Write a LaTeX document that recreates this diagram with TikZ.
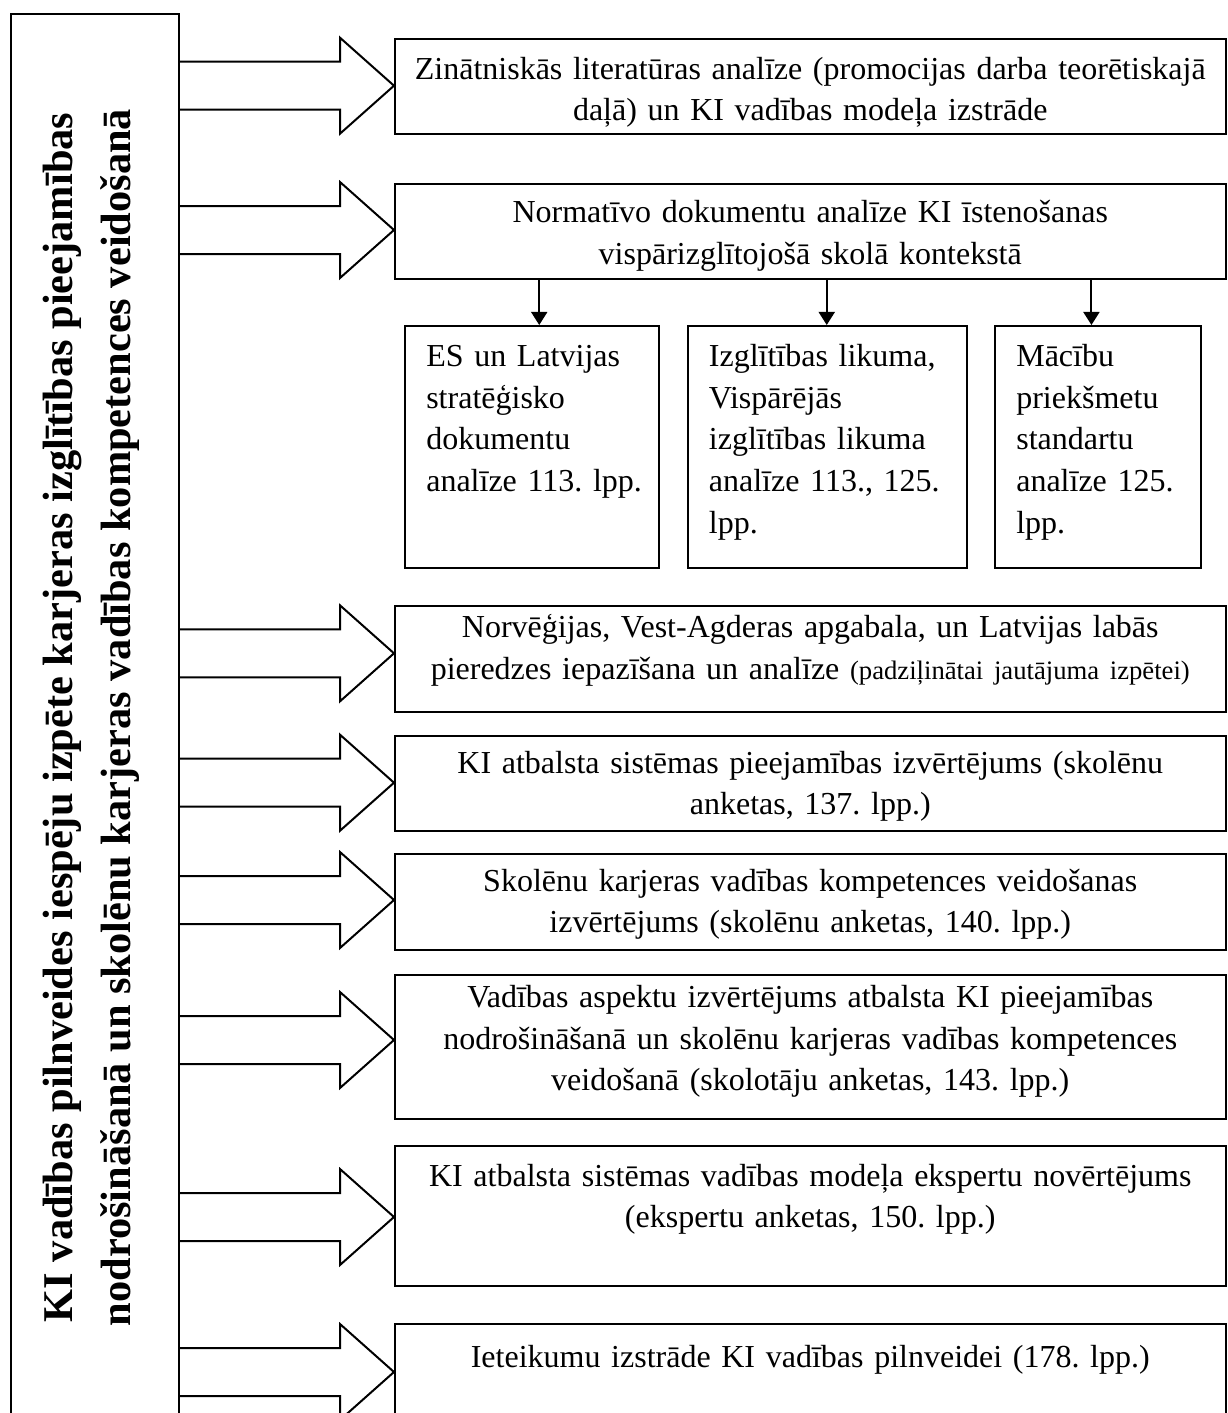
\documentclass[tikz,border=0pt]{standalone}
\usepackage{fontspec}
\setmainfont{Liberation Serif}
\usetikzlibrary{arrows.meta,calc}
\frenchspacing

% text sizes used in the diagram
\newcommand\boxfont{\fontsize{12}{15.6}\selectfont}
\newcommand\notefont{\fontsize{10}{12}\selectfont}
\newcommand\sidefont{\fontsize{15.9}{21.75}\selectfont\bfseries}

\tikzset{
  outline/.style={draw=black, line width=0.75pt},
  mainbox/.style={outline, anchor=north west, inner sep=0pt,
    minimum width=63pt, minimum height=527.6pt, font=\sidefont},
  bigbox/.style={outline, anchor=north west, inner xsep=4pt, inner ysep=0pt,
    text width=303.44pt, align=center, font=\boxfont},
  subbox/.style={outline, anchor=north west, inner xsep=7.875pt, inner ysep=0pt,
    align=left, font=\boxfont, text height=15.26pt, text depth=75.3pt},
  blockarrow/.style={outline, line join=miter},
  downarrow/.style={line width=0.75pt, -{Triangle[length=4.9pt,width=6pt]}},
}

% wide hollow arrow from the left column to the tip coordinate #1
\newcommand\shaftarrow[1]{%
  \draw[blockarrow] ($(#1 -| main.east)+(0,-24)$) -- ($(#1)+(-54,-24)$)
    -- ($(#1)+(-54,-48)$) -- (#1) -- ($(#1)+(-54,48)$)
    -- ($(#1)+(-54,24)$) -- ($(#1 -| main.east)+(0,24)$);}

\begin{document}
\begin{tikzpicture}[x=0.375pt, y=-0.375pt]
\useasboundingbox (0,0) rectangle (1227,1413);
\clip (0,0) rectangle (1227,1413);

% left column with the research aim
\node[mainbox] (main) at (10,13) {\hspace*{-3.75pt}\rotatebox{90}{\begin{tabular}{@{}c@{}}
KI vadības pilnveides iespēju izpēte karjeras izglītības pieejamības\\
nodrošināšanā un skolēnu karjeras vadības kompetences veidošanā
\end{tabular}}};

% research steps
\node[bigbox, text height=15.11pt, text depth=20.74pt] (b1) at (394,37.7)
  {Zinātniskās literatūras analīze (promocijas darba teorētiskajā\\
   daļā) un KI vadības modeļa izstrāde};
\node[bigbox, text height=14.55pt, text depth=21.08pt] (b2) at (394,182.7)
  {Normatīvo dokumentu analīze KI īstenošanas\\
   vispārizglītojošā skolā kontekstā};
\node[bigbox, text height=11.81pt, text depth=27.83pt] (b3) at (394,605)
  {Norvēģijas, Vest-Agderas apgabala, un Latvijas labās\\
   pieredzes iepazīšana un analīze {\notefont(padziļinātai jautājuma izpētei)}};
\node[bigbox, text height=13.88pt, text depth=21.75pt] (b4) at (394,735)
  {KI atbalsta sistēmas pieejamības izvērtējums (skolēnu\\
   anketas, 137. lpp.)};
\node[bigbox, text height=13.88pt, text depth=22.24pt] (b5) at (394,853)
  {Skolēnu karjeras vadības kompetences veidošanas\\
   izvērtējums (skolēnu anketas, 140. lpp.)};
\node[bigbox, text height=12.19pt, text depth=41.93pt] (b6) at (394,974)
  {Vadības aspektu izvērtējums atbalsta KI pieejamības\\
   nodrošināšanā un skolēnu karjeras vadības kompetences\\
   veidošanā (skolotāju anketas, 143. lpp.)};
\node[bigbox, text height=15pt, text depth=37.5pt] (b7) at (394,1145)
  {KI atbalsta sistēmas vadības modeļa ekspertu novērtējums\\
   (ekspertu anketas, 150. lpp.)};
\node[bigbox, text height=16.01pt, text depth=31.5pt] (b8) at (394,1323.3)
  {Ieteikumu izstrāde KI vadības pilnveidei (178. lpp.)};

% documents analysed in step two
\node[subbox, text width=79.45pt] (sA) at (404.3,325)
  {ES un Latvijas\\ stratēģisko\\ dokumentu\\ \mbox{analīze 113. lpp.}};
\node[subbox, text width=88.99pt] (sB) at (686.9,325)
  {\mbox{Izglītības likuma,}\\ Vispārējās\\ \mbox{izglītības likuma}\\
   \mbox{analīze 113., 125.}\\ lpp.};
\node[subbox, text width=61.39pt] (sC) at (994.3,325)
  {Mācību\\ priekšmetu\\ standartu\\ \mbox{analīze 125.}\\ lpp.};

% arrow tips on the step boxes
\coordinate (t1) at ($(b1.north west)+(0,48)$);
\coordinate (t2) at ($(b2.north west)+(0,47.3)$);
\coordinate (t3) at ($(b3.north west)+(0,48.3)$);
\coordinate (t4) at ($(b4.north west)+(0,47.7)$);
\coordinate (t5) at ($(b5.north west)+(0,47)$);
\coordinate (t6) at ($(b6.north west)+(0,66)$);
\coordinate (t7) at ($(b7.north west)+(0,72)$);
\coordinate (t8) at ($(b8.north west)+(0,48.7)$);
\foreach \t in {t1,t2,t3,t4,t5,t6,t7,t8} {\shaftarrow{\t}}

% arrows into the document boxes
\coordinate (dA) at ($(sA.north)+(7,0)$);
\coordinate (dB) at ($(sB.north)+(-0.8,0)$);
\coordinate (dC) at ($(sC.north)+(-6.7,0)$);
\draw[downarrow] (dA |- b2.south) -- (dA);
\draw[downarrow] (dB |- b2.south) -- (dB);
\draw[downarrow] (dC |- b2.south) -- (dC);
\end{tikzpicture}
\end{document}
